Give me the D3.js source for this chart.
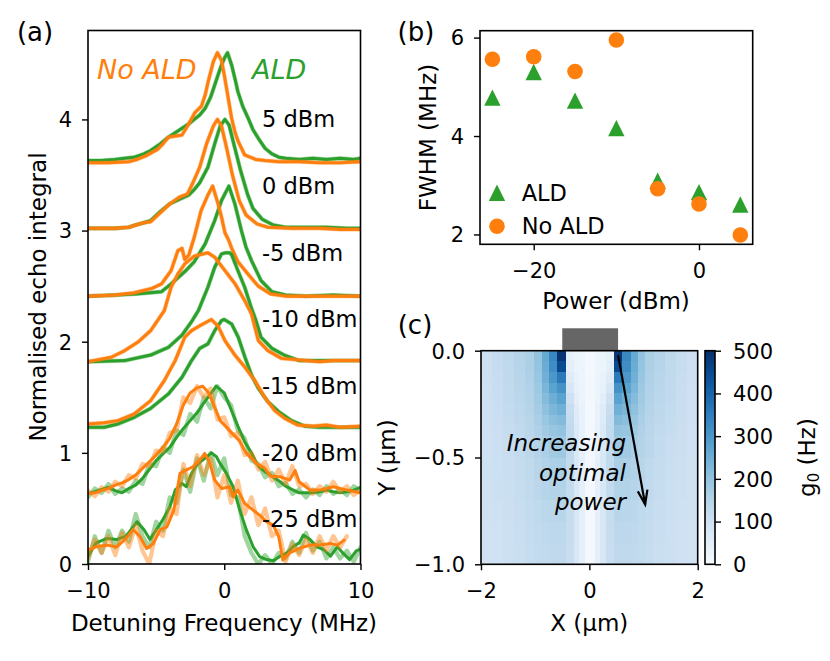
<!DOCTYPE html>
<html><head><meta charset="utf-8">
<script src="https://cdn.jsdelivr.net/npm/d3@7"></script>
<style>body{margin:0;background:#fff} text{font-family:"DejaVu Sans",sans-serif}</style>
</head><body><svg id="c" width="830" height="661" xmlns="http://www.w3.org/2000/svg"></svg>
<script>
// ---------- Panel (a) data: normalised echo integral vs detuning (MHz) ----------
const powerLabels = ["5 dBm","0 dBm","-5 dBm","-10 dBm","-15 dBm","-20 dBm","-25 dBm"];
const offsets = [3.6, 3.0, 2.4, 1.8, 1.2, 0.6, 0.0];

const ald5 = [[-10,0.03],[-9,0.03],[-8,0.04],[-7.3,0.05],[-6.6,0.06],[-5.9,0.09],[-5.4,0.12],[-4.7,0.18],[-4.1,0.24],[-3.6,0.28],[-3.1,0.32],[-2.6,0.36],[-2.2,0.4],[-1.8,0.44],[-1.4,0.5],[-1.0,0.6],[-0.7,0.71],[-0.4,0.82],[-0.2,0.89],[0.05,0.96],[0.24,1.0],[0.54,0.89],[0.8,0.76],[1.0,0.65],[1.35,0.52],[1.76,0.41],[2.1,0.31],[2.5,0.23],[3.0,0.14],[3.5,0.09],[4.0,0.06],[4.5,0.05],[5.5,0.04],[6.5,0.05],[7.5,0.04],[8.5,0.05],[9.5,0.04],[10,0.05]];
const noald5 = [[-10,0.01],[-8.5,0.01],[-7,0.02],[-6.4,0.04],[-5.8,0.07],[-4.9,0.13],[-4.5,0.18],[-4.1,0.24],[-3.6,0.25],[-3.1,0.26],[-2.65,0.35],[-2.16,0.46],[-1.67,0.52],[-1.4,0.62],[-1.18,0.74],[-0.8,0.92],[-0.5,1.0],[-0.2,0.93],[0.0,0.8],[0.17,0.68],[0.54,0.41],[0.8,0.28],[1.03,0.2],[1.5,0.08],[2.3,0.04],[3,0.03],[4,0.02],[5.5,0.02],[7,0.01],[8.5,0.01],[10,0.02]];
const ald0 = [[-10,0.02],[-8,0.02],[-7,0.03],[-6.5,0.05],[-5.9,0.07],[-5.4,0.09],[-4.7,0.17],[-4,0.24],[-3.3,0.28],[-2.6,0.32],[-2.2,0.37],[-1.8,0.43],[-1.2,0.57],[-0.7,0.78],[-0.3,0.94],[0.05,1.0],[0.35,0.95],[0.7,0.78],[1.2,0.54],[1.7,0.33],[2.1,0.2],[2.8,0.1],[3.6,0.05],[4.5,0.03],[6,0.03],[7.5,0.03],[9,0.02],[10,0.02]];
const noald0 = [[-10,0.02],[-8,0.02],[-7,0.03],[-6.5,0.05],[-5.9,0.07],[-5.4,0.08],[-4.7,0.16],[-4,0.24],[-3.3,0.3],[-2.7,0.33],[-2.3,0.43],[-1.8,0.57],[-1.3,0.78],[-0.8,0.94],[-0.5,1.0],[-0.2,0.94],[0.16,0.75],[0.6,0.5],[1.1,0.27],[1.6,0.14],[2.4,0.06],[3.2,0.03],[5,0.02],[7,0.02],[8.5,0.01],[10,0.01]];
const aldm5 = [[-10,0.01],[-8,0.02],[-6.5,0.03],[-5.5,0.04],[-4.6,0.05],[-3.9,0.12],[-2.9,0.23],[-2.2,0.32],[-1.4,0.48],[-0.7,0.69],[-0.2,0.87],[0.34,1.0],[0.78,0.84],[1.26,0.6],[1.6,0.45],[2.0,0.33],[2.7,0.15],[3.5,0.05],[4.5,0.02],[6,0.01],[8,0.02],[10,0.01]];
const noaldm5 = [[-10,0.01],[-8,0.02],[-6.6,0.04],[-5.3,0.08],[-4.6,0.12],[-3.9,0.24],[-3.4,0.42],[-3.1,0.44],[-2.9,0.34],[-2.6,0.38],[-2.2,0.54],[-1.7,0.78],[-1.2,0.92],[-0.85,1.0],[-0.45,0.84],[-0.2,0.72],[0.05,0.58],[0.3,0.52],[0.55,0.44],[1.0,0.32],[1.8,0.2],[2.5,0.1],[3.4,0.03],[4.5,0.01],[10,0.01]];
const aldm10 = [[-10,0.02],[-7.3,0.03],[-5.4,0.08],[-4.1,0.15],[-3.1,0.26],[-2.4,0.38],[-1.9,0.48],[-1.2,0.69],[-0.7,0.87],[-0.2,0.99],[0.1,1.0],[0.4,1.0],[0.55,0.98],[1.0,0.84],[1.5,0.69],[2.0,0.5],[2.3,0.4],[2.7,0.24],[3.5,0.14],[4.4,0.08],[5.5,0.03],[7,0.03],[10,0.03]];
const noaldm10 = [[-10,0.02],[-8.3,0.06],[-7.3,0.12],[-6.3,0.2],[-5.4,0.3],[-4.4,0.48],[-3.9,0.69],[-3.4,0.81],[-2.9,0.9],[-2.2,0.97],[-1.2,1.0],[-0.7,0.96],[0.05,0.84],[0.8,0.72],[1.5,0.57],[2.0,0.45],[2.5,0.21],[3.2,0.12],[4.2,0.05],[6,0.03],[7,0.02],[8,0.03],[10,0.03]];
const aldm15 = [[-10,0.03],[-8.8,0.03],[-7.8,0.06],[-6.6,0.12],[-5.4,0.2],[-4.1,0.33],[-3.1,0.48],[-2.4,0.63],[-1.8,0.74],[-1.2,0.78],[-0.7,0.9],[-0.2,0.99],[0.0,1.0],[0.54,0.96],[1.03,0.84],[1.52,0.66],[2.0,0.5],[2.5,0.38],[3.2,0.26],[4.0,0.17],[4.95,0.09],[5.9,0.04],[7,0.03],[8.5,0.03],[10,0.03]];
const noaldm15 = [[-10,0.06],[-8.8,0.07],[-7.8,0.09],[-6.6,0.15],[-5.4,0.27],[-4.4,0.45],[-3.6,0.63],[-2.9,0.84],[-2.4,0.9],[-1.7,0.95],[-0.95,1.0],[-0.45,0.94],[0.05,0.81],[0.78,0.68],[1.52,0.57],[2.24,0.45],[2.97,0.3],[3.7,0.18],[4.44,0.11],[5.4,0.05],[6.5,0.04],[7.5,0.05],[8.5,0.03],[10,0.04]];
const aldm20 = [[-10,0.035],[-9.5,0.05],[-9,0.07],[-8.5,0.09],[-8,0.06],[-7.5,0.04],[-7,0.08],[-6.5,0.11],[-6,0.17],[-5.5,0.25],[-5,0.33],[-4.5,0.39],[-4,0.45],[-3.5,0.54],[-3,0.62],[-2.5,0.69],[-2,0.76],[-1.5,0.85],[-1,0.93],[-0.6,1.0],[0,0.94],[0.5,0.79],[1,0.64],[1.5,0.5],[2,0.4],[2.5,0.28],[3,0.23],[3.5,0.19],[4,0.15],[4.5,0.1],[5,0.07],[5.5,0.04],[6,0.04],[6.5,0.04],[7,0.05],[7.5,0.065],[8,0.05],[8.5,0.04],[9,0.05],[9.5,0.065],[10,0.09]];
const noaldm20 = [[-10,0.035],[-9.5,0.04],[-9,0.06],[-8.5,0.08],[-8,0.11],[-7.5,0.13],[-7,0.16],[-6.5,0.2],[-6,0.26],[-5.5,0.32],[-5,0.38],[-4.5,0.45],[-4,0.53],[-3.5,0.66],[-3,0.83],[-2.5,0.94],[-2,0.985],[-1.6,1.0],[-1.2,0.95],[-0.8,0.84],[-0.3,0.69],[0.4,0.6],[1.1,0.51],[1.6,0.4],[2.4,0.3],[2.9,0.27],[3.4,0.19],[4.1,0.185],[4.8,0.155],[5.2,0.24],[5.5,0.14],[6.3,0.065],[7,0.065],[8,0.095],[9,0.065],[10,0.04]];
const aldm25 = [[-10,0.07],[-9.4,0.19],[-8.6,0.23],[-7.9,0.22],[-7.2,0.25],[-6.4,0.38],[-5.9,0.31],[-5.45,0.22],[-4.97,0.31],[-4.5,0.4],[-4.0,0.51],[-3.6,0.665],[-3.1,0.725],[-2.78,0.695],[-2.4,0.815],[-2.04,0.89],[-1.43,0.95],[-0.94,1.0],[-0.57,0.965],[-0.33,0.91],[0.16,0.815],[0.65,0.695],[1.14,0.485],[1.63,0.305],[2.12,0.155],[2.6,0.066],[3.1,0.04],[3.6,0.03],[4.1,0.07],[4.6,0.1],[5.1,0.16],[5.5,0.19],[5.8,0.26],[6.3,0.22],[6.8,0.155],[7.3,0.13],[7.8,0.07],[8.3,0.155],[8.7,0.1],[9.2,0.04],[9.7,0.12],[10,0.13]];
const noaldm25 = [[-10,0.126],[-9.4,0.155],[-8.6,0.17],[-7.9,0.155],[-7.2,0.23],[-6.7,0.31],[-6.2,0.25],[-5.7,0.14],[-5.2,0.185],[-4.7,0.31],[-4.2,0.335],[-3.7,0.485],[-3.25,0.815],[-2.8,0.845],[-2.3,0.875],[-1.8,0.935],[-1.43,0.995],[-1.06,0.905],[-0.7,0.755],[-0.2,0.68],[0.4,0.695],[0.65,0.605],[1.0,0.665],[1.5,0.545],[2.12,0.485],[2.6,0.44],[3.1,0.38],[3.6,0.35],[4.0,0.245],[4.3,0.036],[4.8,0.1],[5.5,0.14],[6.3,0.17],[7.0,0.17],[7.8,0.185],[8.3,0.17],[8.8,0.215]];

// raw (unsmoothed) traces for the noisy low-power data, sampled every 0.5 MHz
const rawFreq = [-10,-9.5,-9,-8.5,-8,-7.5,-7,-6.5,-6,-5.5,-5,-4.5,-4,-3.5,-3,-2.5,-2,-1.5,-1,-0.5,0,0.5,1,1.5,2,2.5,3,3.5,4,4.5,5,5.5,6,6.5,7,7.5,8,8.5,9,9.5,10];
const aldm20raw = [0.0,0.08,0.04,0.12,0.03,0.08,0.05,0.15,0.12,0.3,0.28,0.45,0.4,0.6,0.56,0.75,0.68,0.9,0.8,1.0,0.9,0.83,0.6,0.53,0.33,0.3,0.18,0.22,0.1,0.13,0.03,0.07,0.0,0.07,0.02,0.1,0.03,0.07,0.02,0.1,0.06];
const noaldm20raw = [0.06,0.01,0.09,0.05,0.14,0.1,0.2,0.17,0.3,0.28,0.42,0.41,0.58,0.6,0.9,0.85,1.0,0.9,0.98,0.7,0.72,0.55,0.58,0.38,0.4,0.25,0.32,0.15,0.25,0.12,0.28,0.1,0.12,0.03,0.1,0.05,0.14,0.05,0.1,0.02,0.06];
const aldm25raw = [0.02,0.25,0.1,0.3,0.15,0.3,0.2,0.45,0.25,0.15,0.38,0.3,0.6,0.55,0.85,0.65,0.95,0.75,1.0,0.8,0.95,0.62,0.6,0.25,0.1,0.0,0.08,0.0,0.1,0.05,0.2,0.1,0.28,0.12,0.2,0.05,0.15,0.05,0.12,0.02,0.15];
const noaldm25raw = [0.05,0.22,0.1,0.25,0.08,0.28,0.15,0.35,0.12,0.0,0.3,0.25,0.5,0.45,0.9,0.7,0.98,0.8,0.95,0.6,0.8,0.55,0.75,0.45,0.6,0.35,0.5,0.25,0.3,0.02,0.18,0.08,0.22,0.1,0.25,0.12,0.25,0.15,0.25];

// ---------- Panel (b) data ----------
const powerB = [-25,-20,-15,-10,-5,0,5];
const fwhmALD = [4.78,5.3,4.72,4.16,3.09,2.86,2.61];
const fwhmNoALD = [5.56,5.61,5.31,5.95,2.93,2.62,1.99];

// ---------- Panel (c) data: g0 (Hz), half of symmetric map (x >= 0) ----------
const mapXEdges = [0,0.1,0.2,0.3,0.45,0.61,0.76,0.89,1.03,1.2,1.4,1.6,1.8,2.0];
const mapDepthEdges = [0,0.05,0.1,0.15,0.2,0.25,0.3,0.35,0.4,0.5,0.6,0.7,0.8,0.9,1.0];
const g0Map = [
 [10,25,30,40,490,330,260,200,165,150,135,118,105],
 [10,25,30,45,450,320,255,197,163,148,133,117,104],
 [10,25,35,60,360,300,245,192,160,146,131,116,104],
 [10,30,40,80,310,275,232,186,157,143,129,115,103],
 [10,30,50,100,275,250,218,180,154,140,127,114,103],
 [10,35,60,115,245,230,205,173,150,137,125,113,102],
 [10,35,65,125,220,210,192,166,146,134,122,112,102],
 [10,40,70,130,200,193,180,159,142,130,119,110,101],
 [10,40,75,130,185,180,168,152,138,126,116,108,100],
 [10,45,80,128,168,165,157,145,133,122,113,106,99],
 [10,45,80,125,155,153,148,139,129,119,111,104,98],
 [10,45,80,120,145,144,140,133,125,116,109,102,97],
 [10,45,80,117,137,137,134,128,121,113,107,101,96],
 [10,45,80,115,132,132,130,125,119,111,105,100,95]
];
const conductor = {x0:-0.5, x1:0.53, y0:0, y1:0.105};
const arrowPts = [[0.53,-0.02],[1.03,-0.72]];
const cbTicks = [0,100,200,300,400,500];

// ---------- drawing ----------
const svg = d3.select("#c");
const GREEN = "#2ca02c", ORANGE = "#ff7f0e";
const TICK = 21, LAB = 23;

function styleAxis(g){
  g.select(".domain").remove();
  g.selectAll(".tick line").attr("stroke","#000").attr("stroke-width",1.4);
  g.selectAll(".tick text").attr("font-size",TICK).attr("fill","#000").attr("font-family","DejaVu Sans");
}
function bottomAxis(scale, y, ticks, fmt){
  const g = svg.append("g").attr("transform",`translate(0,${y})`)
    .call(d3.axisBottom(scale).tickValues(ticks).tickSize(6).tickFormat(fmt||d3.format("d")));
  styleAxis(g);
  g.selectAll(".tick text").attr("y",26.5).attr("dy","0.35em");
}
function leftAxis(scale, x, ticks, fmt){
  const g = svg.append("g").attr("transform",`translate(${x},0)`)
    .call(d3.axisLeft(scale).tickValues(ticks).tickSize(6).tickFormat(fmt||d3.format("d")));
  styleAxis(g);
  g.selectAll(".tick text").attr("x",-16).attr("dy","0.35em");
}
function frame(x0,y0,x1,y1){
  svg.append("rect").attr("x",x0).attr("y",y0).attr("width",x1-x0).attr("height",y1-y0)
    .attr("fill","none").attr("stroke","#000").attr("stroke-width",1.6);
}
function label(txt,x,y,opts={}){
  const t = svg.append("text").attr("x",x).attr("y",y).attr("dy","0.35em")
    .attr("font-size",opts.size||LAB).attr("fill",opts.fill||"#000")
    .attr("text-anchor",opts.anchor||"middle").text(txt);
  if(opts.italic) t.attr("font-style","italic");
  if(opts.rot) t.attr("transform",`rotate(${opts.rot},${x},${y})`);
  return t;
}

// ===== Panel (a) =====
const xA = d3.scaleLinear([-10,10],[88,360.5]);
const yA = d3.scaleLinear([0,4.8],[564,30.5]);
svg.append("clipPath").attr("id","clipA").append("rect")
  .attr("x",88).attr("y",30.5).attr("width",272.5).attr("height",533.5);
const gA = svg.append("g").attr("clip-path","url(#clipA)");

const aldSets = [ald5,ald0,aldm5,aldm10,aldm15,aldm20,aldm25];
const noaldSets = [noald5,noald0,noaldm5,noaldm10,noaldm15,noaldm20,noaldm25];
const rawALD = [null,null,null,null,null,aldm20raw,aldm25raw];
const rawNoALD = [null,null,null,null,null,noaldm20raw,noaldm25raw];

function drawLine(pts, off, color, width, op){
  const line = d3.line().x(d=>xA(d[0])).y(d=>yA(d[1]+off));
  gA.append("path").datum(pts).attr("d",line).attr("fill","none")
    .attr("stroke",color).attr("stroke-width",width).attr("stroke-opacity",op)
    .attr("stroke-linejoin","round").attr("stroke-linecap","round");
}
function rawPts(vals){ return vals.map((v,i)=>[rawFreq[i],v]); }

offsets.forEach((off,i)=>{
  const ra = rawALD[i] ? rawPts(rawALD[i]) : aldSets[i];
  const rn = rawNoALD[i] ? rawPts(rawNoALD[i]) : noaldSets[i];
  drawLine(ra, off, GREEN, 4.2, 0.45);
  drawLine(aldSets[i], off, GREEN, 3, 1);
  drawLine(rn, off, ORANGE, 4.2, 0.45);
  drawLine(noaldSets[i], off, ORANGE, 3, 1);
});
frame(88,30.5,360.5,564);
leftAxis(yA,88,[0,1,2,3,4]);
bottomAxis(xA,564,[-10,0,10]);
powerLabels.forEach((p,i)=>label(p, 262, yA(offsets[i]+0.4), {anchor:"start", size:22.5}));
label("No ALD",97,yA(4.45),{anchor:"start",size:27,italic:true,fill:ORANGE});
label("ALD",252,yA(4.45),{anchor:"start",size:27,italic:true,fill:GREEN});
label("Normalised echo integral",38,297,{rot:-90});
label("Detuning Frequency (MHz)",224,623);
label("(a)",35,32,{size:26});

// ===== Panel (b) =====
const xB = d3.scaleLinear([-26.5,6.5],[480,752.7]);
const yB = d3.scaleLinear([1.8,6.14],[244.3,30.7]);
const tri = (cx,cy,s)=>`M${cx},${cy-s}L${cx-s},${cy+s}L${cx+s},${cy+s}Z`;
powerB.forEach((p,i)=>{
  svg.append("path").attr("d",tri(xB(p),yB(fwhmALD[i]),8.2)).attr("fill",GREEN);
});
powerB.forEach((p,i)=>{
  svg.append("circle").attr("cx",xB(p)).attr("cy",yB(fwhmNoALD[i])).attr("r",7.8).attr("fill",ORANGE);
});
frame(480,30.7,752.7,244.3);
leftAxis(yB,480,[2,4,6]);
bottomAxis(xB,244.3,[-20,0]);
svg.append("path").attr("d",tri(497,192.7,8.2)).attr("fill",GREEN);
svg.append("circle").attr("cx",497).attr("cy",226.3).attr("r",7.8).attr("fill",ORANGE);
label("ALD",521.7,192.7,{anchor:"start",size:22.5});
label("No ALD",521.7,226.3,{anchor:"start",size:22.5});
label("FWHM (MHz)",428,137.5,{rot:-90});
label("Power (dBm)",616,301);
label("(b)",416,32,{size:26});

// ===== Panel (c) =====
const xC = d3.scaleLinear([-2,2],[481,697.7]);
const yC = d3.scaleLinear([-1,0],[564.3,350.7]);
const color = v => d3.interpolateBlues(Math.max(0,Math.min(1,v/500)));
const gC = svg.append("g").attr("shape-rendering","crispEdges");
g0Map.forEach((row,r)=>{
  const ya = yC(-mapDepthEdges[r]), yb = yC(-mapDepthEdges[r+1]);
  row.forEach((v,c)=>{
    const xa = mapXEdges[c], xb = mapXEdges[c+1];
    [[xa,xb],[-xb,-xa]].forEach(([u0,u1])=>{
      gC.append("rect").attr("x",xC(u0)).attr("y",ya)
        .attr("width",xC(u1)-xC(u0)+0.6).attr("height",yb-ya+0.6).attr("fill",color(v));
    });
  });
});
svg.append("rect").attr("x",xC(conductor.x0)).attr("y",yC(conductor.y1))
  .attr("width",xC(conductor.x1)-xC(conductor.x0)).attr("height",yC(conductor.y0)-yC(conductor.y1))
  .attr("fill","#666666");
frame(481,350.7,697.7,564.3);
leftAxis(yC,481,[0,-0.5,-1],d3.format(".1f"));
bottomAxis(xC,564.3,[-2,0,2]);
// arrow
const [p0,p1] = arrowPts.map(d=>[xC(d[0]),yC(d[1])]);
svg.append("line").attr("x1",p0[0]).attr("y1",p0[1]).attr("x2",p1[0]).attr("y2",p1[1])
  .attr("stroke","#000").attr("stroke-width",2.2);
{
  const ang = Math.atan2(p1[1]-p0[1],p1[0]-p0[0]), L=15, a=0.33;
  const h1=[p1[0]-L*Math.cos(ang-a),p1[1]-L*Math.sin(ang-a)];
  const h2=[p1[0]-L*Math.cos(ang+a),p1[1]-L*Math.sin(ang+a)];
  svg.append("path").attr("d",`M${h1}L${p1}L${h2}`).attr("fill","none")
    .attr("stroke","#000").attr("stroke-width",2.2).attr("stroke-linejoin","miter");
}
["Increasing","optimal","power"].forEach((t,i)=>label(t,626,443.3+i*29.2,{anchor:"end",italic:true}));
label("X (µm)",589.3,623);
label("Y (µm)",387,457.5,{rot:-90});
label("(c)",415,325,{size:26});

// colorbar
const cbY = d3.scaleLinear([0,500],[564.3,350.7]);
const grad = svg.append("defs").append("linearGradient").attr("id","cbg")
  .attr("x1",0).attr("y1",1).attr("x2",0).attr("y2",0);
d3.range(0,1.0001,0.05).forEach(t=>grad.append("stop").attr("offset",t).attr("stop-color",d3.interpolateBlues(t)));
svg.append("rect").attr("x",705).attr("y",350.7).attr("width",10).attr("height",213.6).attr("fill","url(#cbg)");
frame(705,350.7,715,564.3);
{
  const g = svg.append("g").attr("transform","translate(715,0)")
    .call(d3.axisRight(cbY).tickValues(cbTicks).tickSize(6));
  styleAxis(g);
  g.selectAll(".tick text").attr("x",18).attr("dy","0.35em");
}
{
  const t = svg.append("text").attr("transform","translate(807,457.5) rotate(-90)")
    .attr("text-anchor","middle").attr("dy","0.35em").attr("font-size",LAB);
  t.append("tspan").text("g");
  t.append("tspan").attr("font-size",15).attr("dy","4").text("0");
  t.append("tspan").attr("dy","-4").text(" (Hz)");
}
</script></body></html>
